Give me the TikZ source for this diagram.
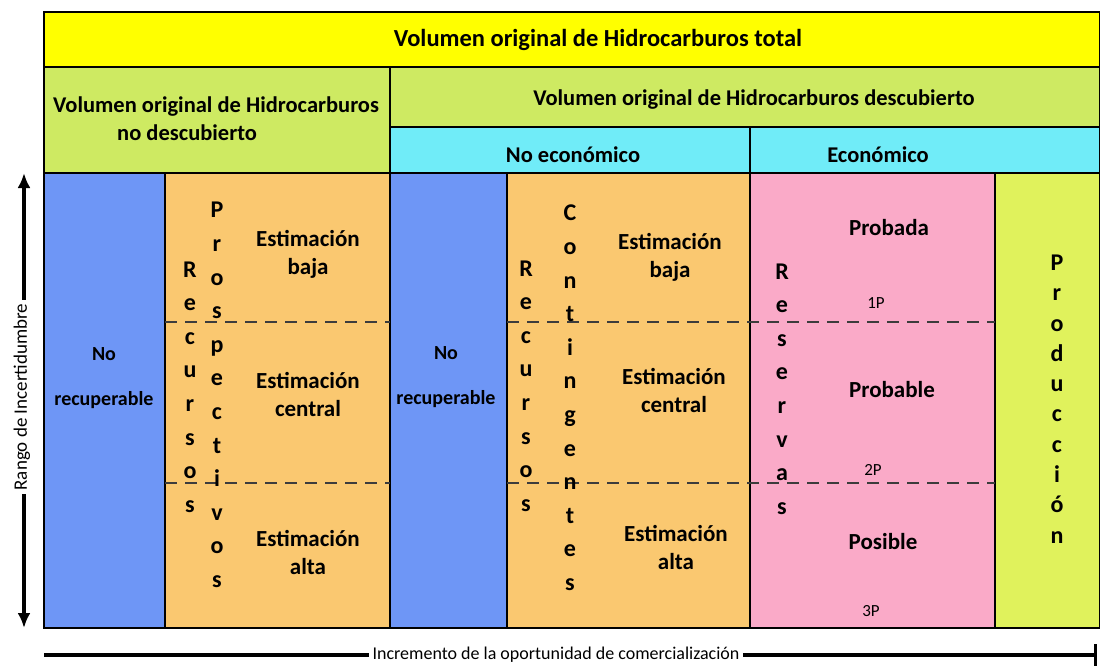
\documentclass[tikz,border=0pt]{standalone}
\usepackage{fontspec}
\setmainfont{Carlito}
\usepackage{xcolor}
\usepackage{tikz}
\usetikzlibrary{arrows.meta,positioning}
\definecolor{hyellow}{RGB}{255,255,0}
\definecolor{hgreen}{RGB}{206,234,98}
\definecolor{hcyan}{RGB}{112,236,248}
\definecolor{hblue}{RGB}{110,150,246}
\definecolor{horange}{RGB}{250,200,112}
\definecolor{hpink}{RGB}{250,170,200}
\definecolor{hlime}{RGB}{224,242,92}
\definecolor{hgray}{RGB}{60,60,60}

\begin{document}
\begin{tikzpicture}[
  x=1pt,y=-1pt,
  cell/.style={draw=black,line width=1.6pt},
  head/.style={font=\fontsize{22.5}{28}\selectfont\bfseries,inner sep=0pt},
  lbl/.style={font=\fontsize{23}{28}\selectfont\bfseries,align=center,inner sep=0pt},
  norec/.style={font=\fontsize{20}{45}\selectfont\bfseries,align=center,inner sep=0pt},
  stack/.style={font=\fontsize{24}{33.6}\selectfont\bfseries,align=center,inner sep=0pt},
  tag/.style={font=\fontsize{17}{18}\selectfont,inner sep=0pt},
  split/.style={hgray,line width=1.2pt,dash pattern=on 12pt off 8pt},
  axis/.style={line width=3.5pt},
  ]
  \useasboundingbox (0,0) rectangle (1100,667);
  % header rows
  \filldraw[cell,fill=hyellow] (44,12) rectangle (1100,67);
  \filldraw[cell,fill=hgreen] (44,67) rectangle (390,173);
  \filldraw[cell,fill=hgreen] (390,67) rectangle (1100,127);
  \filldraw[cell,fill=hcyan] (390,127) rectangle (750,173);
  \filldraw[cell,fill=hcyan] (750,127) rectangle (1100,173);
  % body columns
  \filldraw[cell,fill=hblue] (44,173) rectangle (165,628);
  \filldraw[cell,fill=horange] (165,173) rectangle (390,628);
  \filldraw[cell,fill=hblue] (390,173) rectangle (507,628);
  \filldraw[cell,fill=horange] (507,173) rectangle (750,628);
  \filldraw[cell,fill=hpink] (750,173) rectangle (995,628);
  \filldraw[cell,fill=hlime] (995,173) rectangle (1100,628);
  \draw[line width=2.6pt] (1100,12) -- (44,12) -- (44,628) -- (1100,628);
  \draw[split] (165,322) -- (390,322);
  \draw[split] (165,483) -- (390,483);
  \draw[split] (507,322) -- (995,322);
  \draw[split] (507,483) -- (995,483);

  \node[head,font=\fontsize{24.5}{28}\selectfont\bfseries] (total) at (598,40) {Volumen original de Hidrocarburos total};
  \node[head,align=left,anchor=west] (nodesc) at (53,119) {Volumen original de Hidrocarburos\\\hspace*{64pt}no descubierto};
  \node[head] (desc) at (754,100) {Volumen original de Hidrocarburos descubierto};
  \node[head] (noeco) at (573,155) {No económico};
  \node[head] (eco) at (878,155) {Económico};

  \node[norec] (norec1) at (104,378) {No\\recuperable};
  \node[stack] (recur1) at (190,387) {R\\e\\c\\u\\r\\s\\o\\s};
  \node[stack] (prosp) at (217,395) {P\\r\\o\\s\\p\\e\\c\\t\\i\\v\\o\\s};
  \node[lbl] (baja1) at (308,254) {Estimación\\baja};
  \node[lbl] (cent1) at (308,394) {Estimación\\central};
  \node[lbl] (alta1) at (308,552) {Estimación\\alta};

  \node[norec] (norec2) at (446,377) {No\\recuperable};
  \node[stack] (recur2) at (526,386) {R\\e\\c\\u\\r\\s\\o\\s};
  \node[stack] (conting) at (570,398) {C\\o\\n\\t\\i\\n\\g\\e\\n\\t\\e\\s};
  \node[lbl] (baja2) at (670,257) {Estimación\\baja};
  \node[lbl] (cent2) at (674,390) {Estimación\\central};
  \node[lbl] (alta2) at (676,547) {Estimación\\alta};

  \node[stack] (reserv) at (782,389) {R\\e\\s\\e\\r\\v\\a\\s};
  \node[lbl] (probada) at (889,228) {Probada};
  \node[tag] (p1) at (876,303) {1P};
  \node[lbl] (probable) at (892,390) {Probable};
  \node[tag] (p2) at (873,470) {2P};
  \node[lbl] (posible) at (883,542) {Posible};
  \node[tag] (p3) at (871,611) {3P};
  \node[stack,font=\fontsize{24}{30.3}\selectfont\bfseries] (prod) at (1057,399) {P\\r\\o\\d\\u\\c\\c\\i\\ó\\n};

  % axes
  \coordinate (vtop) at (24,173);
  \coordinate (vbot) at (24,628);
  \draw[axis,{Latex[length=15pt,width=13pt]}-{Latex[length=15pt,width=13pt]}] (vtop) -- (vbot);
  \node[fill=white,rotate=90,inner sep=4pt,font=\fontsize{19}{22}\selectfont] (rango) at (22,397) {Rango de Incertidumbre};
  \coordinate (hstart) at (44,655);
  \coordinate (hend) at (1097,655);
  \draw[axis,-{Bar[width=22pt,line width=3pt]}] (hstart) -- (hend);
  \node[fill=white,inner sep=4pt,font=\fontsize{18}{20}\selectfont] (incr) at (556,655) {Incremento de la oportunidad de comercialización};
\end{tikzpicture}
\end{document}
